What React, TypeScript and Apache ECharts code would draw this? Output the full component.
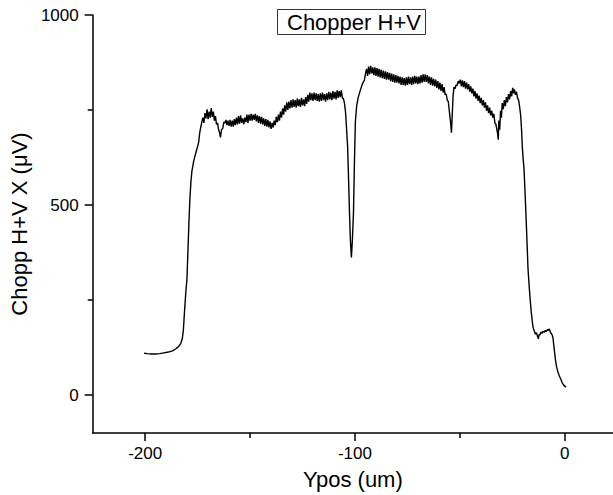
import React, { useEffect, useRef } from "react";
import * as echarts from "echarts";

const titleText = "Chopper H+V";
const xName = "Ypos (um)";
const yName = "Chopp H+V X (\u03bcV)";
const xMajorTicks = [-200, -100, 0];
const xMinorTicks = [-150, -50];
const yMajorTicks = [0, 500, 1000];
const yMinorTicks = [250, 750];

// [Ypos (um), signal (uV)]
const riseTrace = [
  [-200.5, 110], [-199, 109], [-197, 108], [-195, 108], [-193, 109], [-191, 111], [-189, 113], [-187, 116],
  [-185.5, 121], [-184, 128], [-183, 136], [-182.3, 148], [-181.8, 170], [-181.3, 215], [-180.7, 265],
  [-180.1, 304], [-179.6, 380], [-179.1, 460], [-178.7, 514], [-178.2, 560], [-177.7, 590], [-177.2, 605],
  [-176.9, 615], [-176.3, 628], [-175.7, 640], [-175.1, 652], [-174.5, 665], [-174, 690], [-173.5, 705], [-173, 718],
];

const leftPlateau = [
  [-172.5, 730], [-172, 716], [-171.5, 742], [-171, 728], [-170.5, 752], [-170, 726], [-169.5, 746], [-169, 730],
  [-168.5, 755], [-168, 732], [-167.5, 746], [-167, 722], [-166.5, 734], [-166, 712], [-165.5, 716], [-165, 698],
  [-164.5, 690], [-164.1, 678], [-163.6, 698], [-163, 702], [-162.5, 718], [-162, 716], [-161.5, 724], [-161, 710],
  [-160.5, 722], [-160, 708], [-159.5, 724], [-159, 706], [-158.5, 722], [-158, 706], [-157.5, 726], [-157, 710],
  [-156.5, 730], [-156, 712], [-155.5, 734], [-155, 714], [-154.5, 736], [-154, 716], [-153.5, 728], [-153, 712],
  [-152.5, 730], [-152, 718], [-151.5, 738], [-151, 716], [-150.5, 738], [-150, 722], [-149.5, 740], [-149, 722],
  [-148.5, 738], [-148, 724], [-147.5, 740], [-147, 720], [-146.5, 736], [-146, 716], [-145.5, 734], [-145, 714],
  [-144.5, 732], [-144, 712], [-143.5, 728], [-143, 708], [-142.5, 726], [-142, 706], [-141.5, 724], [-141, 704],
  [-140.5, 720], [-140, 700], [-139.5, 716], [-139, 704], [-138.5, 722], [-138, 710], [-137.5, 732], [-137, 718],
  [-136.5, 738], [-136, 722], [-135.5, 746], [-135, 730], [-134.5, 754], [-134, 738], [-133.5, 762], [-133, 746],
  [-132.5, 770], [-132, 750], [-131.5, 772], [-131, 754], [-130.5, 776], [-130, 756], [-129.5, 778], [-129, 758],
  [-128.5, 776], [-128, 756], [-127.5, 780], [-127, 760], [-126.5, 778], [-126, 758], [-125.5, 782], [-125, 762],
  [-124.5, 778], [-124, 760], [-123.5, 784], [-123, 766], [-122.5, 790], [-122, 772], [-121.5, 796], [-121, 776],
  [-120.5, 794], [-120, 774], [-119.5, 796], [-119, 776], [-118.5, 794], [-118, 774], [-117.5, 792], [-117, 772],
  [-116.5, 794], [-116, 774], [-115.5, 796], [-115, 776], [-114.5, 792], [-114, 772], [-113.5, 794], [-113, 776],
  [-112.5, 798], [-112, 778], [-111.5, 796], [-111, 776], [-110.5, 800], [-110, 780], [-109.5, 798], [-109, 778],
  [-108.5, 802], [-108, 782], [-107.5, 800], [-107, 784], [-106.5, 802], [-106, 782],
];

const centralDip = [
  [-105.5, 780], [-105, 768], [-104.5, 745], [-104, 700], [-103.5, 654], [-103, 560], [-102.6, 480], [-102.2, 410],
  [-101.7, 362], [-101.3, 400], [-100.7, 480], [-100.3, 600], [-99.8, 719], [-99.2, 760], [-98.5, 782],
  [-97.4, 803], [-96.5, 818], [-95.5, 829],
];

const rightPlateau = [
  [-95, 845], [-94.5, 858], [-94, 840], [-93.5, 864], [-93, 844], [-92.5, 866], [-92, 846], [-91.5, 862],
  [-91, 842], [-90.5, 862], [-90, 840], [-89.5, 860], [-89, 838], [-88.5, 858], [-88, 836], [-87.5, 856],
  [-87, 834], [-86.5, 854], [-86, 832], [-85.5, 852], [-85, 830], [-84.5, 850], [-84, 830], [-83.5, 848],
  [-83, 826], [-82.5, 846], [-82, 824], [-81.5, 844], [-81, 822], [-80.5, 842], [-80, 822], [-79.5, 840],
  [-79, 820], [-78.5, 838], [-78, 816], [-77.5, 836], [-77, 816], [-76.5, 834], [-76, 814], [-75.5, 836],
  [-75, 816], [-74.5, 838], [-74, 818], [-73.5, 836], [-73, 816], [-72.5, 838], [-72, 818], [-71.5, 840],
  [-71, 820], [-70.5, 838], [-70, 818], [-69.5, 838], [-69, 820], [-68.5, 842], [-68, 822], [-67.5, 844],
  [-67, 824], [-66.5, 844], [-66, 824], [-65.5, 842], [-65, 820], [-64.5, 838], [-64, 816], [-63.5, 836],
  [-63, 814], [-62.5, 832], [-62, 812], [-61.5, 830], [-61, 808], [-60.5, 826], [-60, 804], [-59.5, 822],
  [-59, 800], [-58.5, 818], [-58, 796], [-57.5, 810], [-57, 790], [-56.5, 792], [-56, 776], [-55.5, 772],
  [-55, 746], [-54.5, 722], [-54, 690], [-53.6, 740], [-53.2, 790],
];

const slopeTrace = [
  [-52.8, 810], [-52.3, 806], [-51.8, 816], [-51.3, 814], [-50.8, 826], [-50.3, 820], [-49.8, 830], [-49.3, 812],
  [-48.8, 828], [-48.3, 810], [-47.8, 826], [-47.3, 806], [-46.8, 822], [-46.3, 804], [-45.8, 818], [-45.3, 798],
  [-44.8, 812], [-44.3, 794], [-43.8, 806], [-43.3, 786], [-42.8, 800], [-42.3, 780], [-41.8, 794], [-41.3, 774],
  [-40.8, 788], [-40.3, 768], [-39.8, 782], [-39.3, 762], [-38.8, 776], [-38.3, 756], [-37.8, 770], [-37.3, 748],
  [-36.8, 762], [-36.3, 742], [-35.8, 756], [-35.3, 736], [-34.8, 748], [-34.3, 730], [-33.8, 740], [-33.3, 716],
  [-32.8, 712], [-32.4, 700], [-32, 688], [-31.7, 672], [-31.4, 722], [-31, 698], [-30.6, 748], [-30.2, 730],
  [-29.8, 768], [-29.3, 752], [-28.8, 776], [-28.3, 760], [-27.8, 784], [-27.3, 770], [-26.8, 792], [-26.3, 778],
  [-25.8, 800], [-25.3, 786], [-24.8, 808], [-24.4, 794], [-24, 804], [-23.5, 790], [-23, 798], [-22.5, 782],
  [-22, 776], [-21.5, 758], [-21, 735],
];

const fallTrace = [
  [-20.6, 700], [-20.2, 650], [-19.8, 620], [-19.4, 593], [-18.9, 530], [-18.4, 462], [-17.9, 390], [-17.5, 331],
  [-17, 290], [-16.5, 252], [-16, 220], [-15.5, 195], [-15.1, 178], [-14.5, 168], [-14, 160], [-13.5, 164],
  [-13, 155], [-12.6, 148], [-12.2, 160], [-11.8, 158], [-11.3, 166], [-10.8, 162], [-10.3, 168], [-9.8, 165],
  [-9.3, 170], [-8.8, 167], [-8.3, 172], [-7.8, 170], [-7.4, 174], [-7, 168], [-6.5, 162], [-6, 158], [-5.6, 150],
  [-5.2, 130], [-4.8, 110], [-4.3, 87], [-3.8, 72], [-3.2, 60], [-2.6, 50], [-1.9, 42], [-1.2, 32], [-0.5, 26],
  [0.3, 22], [0.7, 21],
];

const FONT = "'Liberation Sans', Arial, Helvetica, sans-serif";

export default function App() {
  const ref = useRef<HTMLDivElement>(null);
  useEffect(() => {
    if (!ref.current) return;
    const chart = echarts.init(ref.current, undefined, { renderer: "svg" });
    const data = [...riseTrace, ...leftPlateau, ...centralDip, ...rightPlateau, ...slopeTrace, ...fallTrace];
    const lineStyle = { color: "#000", width: 1.5 };
    chart.setOption({
      animation: false,
      backgroundColor: "#fff",
      textStyle: { fontFamily: FONT },
      title: {
        text: titleText,
        left: 277,
        top: 9,
        borderColor: "#333",
        borderWidth: 1,
        padding: [2, 5, 2, 10],
        textStyle: { fontFamily: FONT, fontSize: 22, fontWeight: "normal", color: "#000" },
      },
      grid: { left: 88, right: 0, top: 15, bottom: 61 },
      xAxis: [
        {
          type: "value",
          min: -225,
          max: 23,
          name: xName,
          nameLocation: "middle",
          nameGap: 35,
          nameTextStyle: { fontFamily: FONT, fontSize: 22, color: "#000" },
          axisLine: { show: true, onZero: false, lineStyle },
          axisTick: { show: true, length: 8, customValues: xMajorTicks, lineStyle },
          axisLabel: {
            customValues: xMajorTicks,
            formatter: (v: number) => String(v),
            fontFamily: FONT,
            fontSize: 17,
            color: "#000",
            margin: 12,
          },
          splitLine: { show: false },
        },
        {
          type: "value",
          min: -225,
          max: 23,
          position: "bottom",
          axisLine: { show: false, onZero: false },
          axisTick: { show: true, length: 5, customValues: xMinorTicks, lineStyle },
          axisLabel: { show: false },
          splitLine: { show: false },
        },
      ],
      yAxis: [
        {
          type: "value",
          min: -100,
          max: 1000,
          name: yName,
          nameLocation: "middle",
          nameRotate: 90,
          nameGap: 58,
          nameTextStyle: { fontFamily: FONT, fontSize: 22, color: "#000" },
          axisLine: { show: true, onZero: false, lineStyle },
          axisTick: { show: true, length: 8, customValues: yMajorTicks, lineStyle },
          axisLabel: {
            customValues: yMajorTicks,
            formatter: (v: number) => String(v),
            fontFamily: FONT,
            fontSize: 17,
            color: "#000",
            margin: 14,
          },
          splitLine: { show: false },
        },
        {
          type: "value",
          min: -100,
          max: 1000,
          position: "left",
          axisLine: { show: false, onZero: false },
          axisTick: { show: true, length: 5, customValues: yMinorTicks, lineStyle },
          axisLabel: { show: false },
          splitLine: { show: false },
        },
      ],
      series: [
        {
          type: "line",
          data,
          xAxisIndex: 0,
          yAxisIndex: 0,
          showSymbol: false,
          symbol: "none",
          lineStyle: { color: "#000", width: 1.4 },
        },
      ],
    });
    return () => chart.dispose();
  }, []);
  return <div ref={ref} style={{ position: "fixed", left: 0, top: 0, width: 613, height: 495 }} />;
}
